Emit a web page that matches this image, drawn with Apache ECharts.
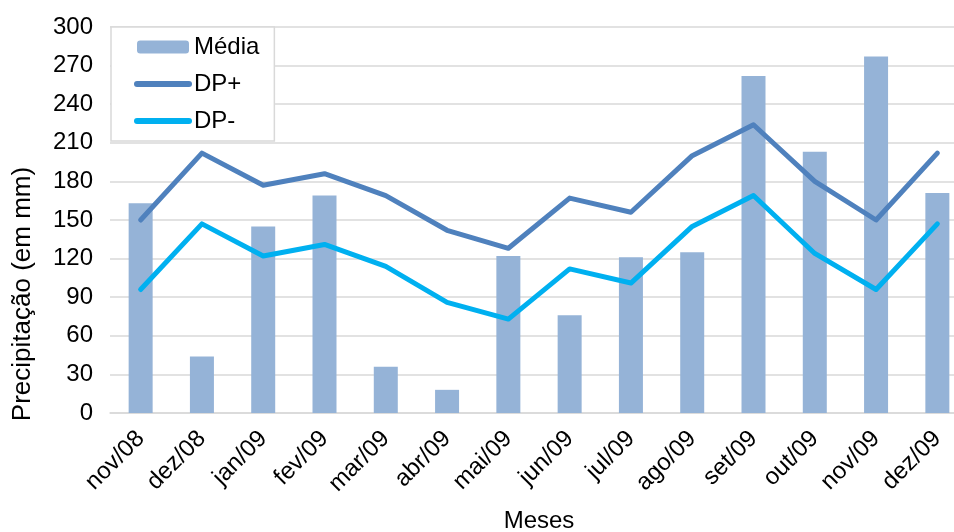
<!DOCTYPE html>
<html>
<head>
<meta charset="utf-8">
<script src="https://cdn.jsdelivr.net/npm/echarts@6/dist/echarts.min.js"></script>
<style>
  html, body { margin: 0; padding: 0; background: #fff; }
  #chart { width: 954px; height: 532px; }
</style>
</head>
<body>
<div id="chart"></div>
<script>
  // meses e valores (mm)
  var categories = ['nov/08', 'dez/08', 'jan/09', 'fev/09', 'mar/09', 'abr/09', 'mai/09', 'jun/09', 'jul/09', 'ago/09', 'set/09', 'out/09', 'nov/09', 'dez/09']
  var media = [163, 44, 145, 169, 36, 18, 122, 76, 121, 125, 262, 203, 277, 171]
  var dpPlus = [150, 202, 177, 186, 169, 142, 128, 167, 156, 200, 224, 180, 150, 202]
  var dpMinus = [96, 147, 122, 131, 114, 86, 73, 112, 101, 145, 169, 124, 96, 147]
  var yTicks = [0, 30, 60, 90, 120, 150, 180, 210, 240, 270, 300]

  var font = "'Liberation Sans', Arial, sans-serif"
  var gridColor = '#d9d9d9'

  var myChart = echarts.init(document.getElementById('chart'))
  myChart.setOption({
    animation: false,
    textStyle: { fontFamily: font, color: '#000' },
    grid: {
      top: 27,
      bottom: 119,
      left: 110,
      right: -14,
      outerBoundsMode: 'none' // deixa o grid passar da borda como no original
    },
    legend: {
      orient: 'vertical',
      left: 111,
      top: 27,
      padding: [8, 15, 8, 23],
      itemGap: 13,
      itemWidth: 52,
      itemHeight: 13,
      backgroundColor: '#fff',
      borderColor: gridColor,
      borderWidth: 1.5,
      lineStyle: { width: 6, cap: 'round' },
      textStyle: { fontFamily: font, fontSize: 24, color: '#000' },
      data: [
        'Média',
        { name: 'DP+', itemStyle: { opacity: 0 } }, // só a linha, sem o círculo
        { name: 'DP-', itemStyle: { opacity: 0 } }
      ]
    },
    xAxis: {
      type: 'category',
      data: categories,
      axisTick: { show: false },
      axisLine: { lineStyle: { color: gridColor, width: 1.5 } },
      axisLabel: {
        interval: 0,
        rotate: 45,
        margin: 22,
        fontSize: 24,
        color: '#000',
        fontFamily: font
      },
      name: 'Meses',
      nameLocation: 'middle',
      nameGap: 96,
      nameTextStyle: { fontSize: 24, color: '#000', fontFamily: font }
    },
    yAxis: {
      type: 'value',
      min: yTicks[0],
      max: yTicks[yTicks.length - 1],
      interval: yTicks[1] - yTicks[0],
      axisLine: { show: false },
      axisTick: { show: false },
      splitLine: { lineStyle: { color: gridColor, width: 1.5 } },
      axisLabel: { margin: 17, fontSize: 24, color: '#000', fontFamily: font }
    },
    graphic: [{
      type: 'text',
      x: 23,
      y: 294,
      rotation: Math.PI / 2,
      style: {
        text: 'Precipitação (em mm)',
        fontSize: 26,
        fontFamily: font,
        fill: '#000',
        align: 'center',
        verticalAlign: 'middle'
      }
    }],
    series: [
      {
        name: 'Média',
        type: 'bar',
        barWidth: 24,
        itemStyle: { color: '#95b3d7' },
        data: media
      },
      {
        name: 'DP+',
        type: 'line',
        symbol: 'none',
        lineStyle: { color: '#4f81bd', width: 5, cap: 'round', join: 'round' },
        itemStyle: { color: '#4f81bd' },
        data: dpPlus
      },
      {
        name: 'DP-',
        type: 'line',
        symbol: 'none',
        lineStyle: { color: '#00b0f0', width: 5, cap: 'round', join: 'round' },
        itemStyle: { color: '#00b0f0' },
        data: dpMinus
      }
    ]
  })
</script>
</body>
</html>
